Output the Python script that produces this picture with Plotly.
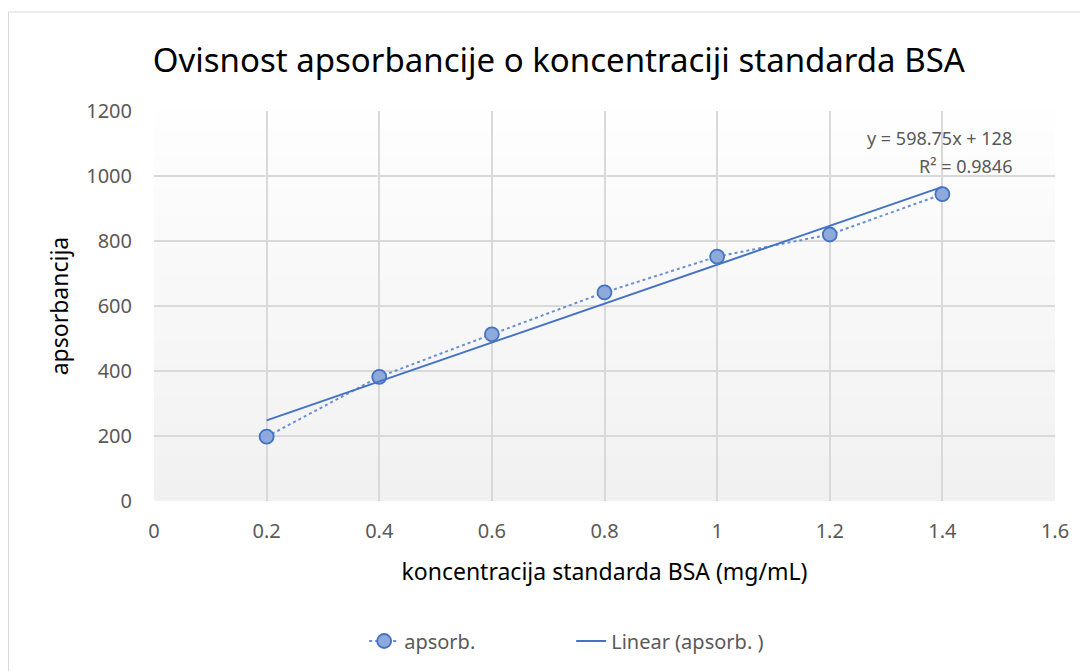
import numpy as np
import plotly.graph_objects as go

conc = [0.2, 0.4, 0.6, 0.8, 1.0, 1.2, 1.4]
absorb = [198, 382, 513, 642, 752, 820, 944]
series_name = "apsorb."
trend_name = "Linear (apsorb. )"
x_ticks = [0, 0.2, 0.4, 0.6, 0.8, 1.0, 1.2, 1.4, 1.6]
x_tick_labels = ["0", "0.2", "0.4", "0.6", "0.8", "1", "1.2", "1.4", "1.6"]
y_ticks = [0, 200, 400, 600, 800, 1000, 1200]
eq_line1 = "y = 598.75x + 128"
eq_line2 = "R² = 0.9846"

slope, intercept = np.polyfit(conc, absorb, 1)

FONT = "Noto Sans"
BLUE = "#4472c4"
GRAY = "#595959"

fig = go.Figure()

fig.add_trace(go.Scatter(
    x=conc, y=absorb, mode="lines+markers", name=series_name,
    line=dict(color="#6a8fd4", width=2, dash="dot"),
    marker=dict(size=14, color="#8eaadb", line=dict(color=BLUE, width=1.8)),
))

xs = [conc[0], conc[-1]]
fig.add_trace(go.Scatter(
    x=xs, y=[slope * v + intercept for v in xs], mode="lines", name=trend_name,
    line=dict(color=BLUE, width=2),
))

fig.add_annotation(x=1.528, y=1117, xref="x", yref="y", text=eq_line1, showarrow=False,
                   xanchor="right", yanchor="middle", font=dict(family=FONT, size=18, color=GRAY))
fig.add_annotation(x=1.528, y=1031, xref="x", yref="y", text=eq_line2, showarrow=False,
                   xanchor="right", yanchor="middle", font=dict(family=FONT, size=18, color=GRAY))

# vertical gradient of plot background (below gridlines)
shapes = []
n = 60
for i in range(n):
    t = i / (n - 1)
    g = int(round(0xf1 + (0xfe - 0xf1) * t))
    col = f"rgb({g},{g},{g})"
    shapes.append(dict(type="rect", xref="paper", yref="paper", x0=0, x1=1,
                       y0=i / n, y1=(i + 1) / n + 0.002, line=dict(width=0),
                       fillcolor=col, layer="below"))
# outer chart border
shapes.append(dict(type="rect", xref="paper", yref="paper",
                   x0=-145.5 / 901, x1=1 + 32 / 901, y0=-0.5, y1=1 + 99 / 390,
                   line=dict(color="#d9d9d9", width=1), layer="below",
                   fillcolor="rgba(0,0,0,0)"))

fig.update_layout(
    width=1080, height=663,
    paper_bgcolor="white", plot_bgcolor="white",
    margin=dict(l=146, r=33, t=103, b=170, autoexpand=False),
    title=dict(text="Ovisnost apsorbancije o koncentraciji standarda BSA",
               x=0.51, xanchor="center", y=1 - 52 / 663, yanchor="middle",
               font=dict(family=FONT, size=33, color="black")),
    font=dict(family=FONT, color=GRAY, size=20),
    xaxis=dict(range=[0, 1.6], tickvals=x_ticks, ticktext=x_tick_labels, automargin=False,
               showgrid=True, gridcolor="#d9d9d9", gridwidth=1.5,
               zeroline=False, showline=False, ticks="outside", ticklen=12, tickcolor="rgba(0,0,0,0)",
               tickfont=dict(family=FONT, size=20, color=GRAY),
               title=dict(text="koncentracija standarda BSA (mg/mL)",
                          font=dict(family=FONT, size=23, color="black"), standoff=20)),
    yaxis=dict(range=[0, 1200], tickvals=y_ticks, automargin=False,
               showgrid=True, gridcolor="#d9d9d9", gridwidth=1.5,
               zeroline=False, showline=False, ticks="outside", ticklen=17, tickcolor="rgba(0,0,0,0)",
               tickfont=dict(family=FONT, size=20, color=GRAY),
               title=dict(text="apsorbancija",
                          font=dict(family=FONT, size=23, color="black"), standoff=11)),
    legend=dict(orientation="h", x=0.463, xanchor="center", y=-0.359, yanchor="middle",
                font=dict(family=FONT, size=20, color=GRAY), entrywidth=162),
    shapes=shapes,
)

fig.write_html("out.html")
